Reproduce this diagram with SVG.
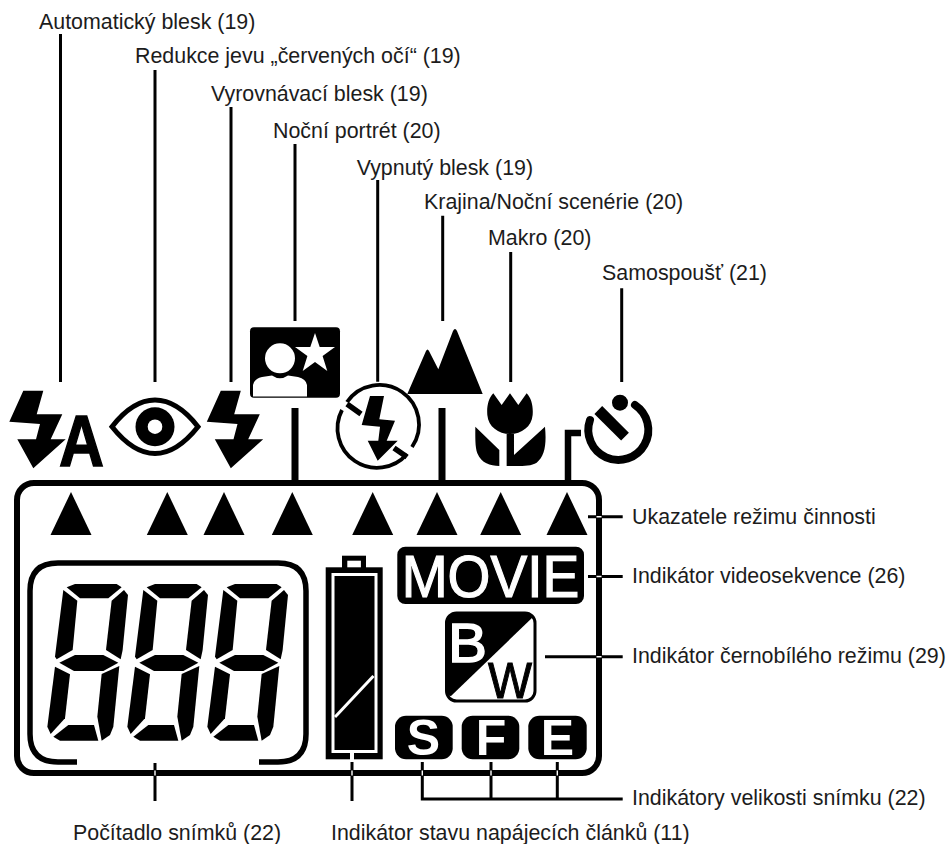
<svg xmlns="http://www.w3.org/2000/svg" width="947" height="844" viewBox="0 0 947 844">
<style>
text{font-family:"Liberation Sans",Arial,sans-serif}
.l{font-size:21.4px;fill:#1c1c1c}
.t{stroke:#000;stroke-width:3;fill:none}
.w{fill:#fff}
.f{stroke:#000;fill:none}
</style>
<defs>
<path id="flash" d="M23.3,390.7H43.3L36.7,414.3H62.3L50.7,439.3H65.7L33.3,468.3L17.3,439.3H36L40,424L9.3,421.7Z"/>
<polygon id="tri" points="0,0 20.5,43 -20.5,43"/>
<g id="digit" transform="translate(0,510) scale(.3333)">
<path d="M200,232L225,222H350L365,232L325,265H240Z"/>
<path d="M190,240L232,272L218,420L170,448L165,440Z"/>
<path d="M372,240L384,255L368,420L362,448L318,420L335,272Z"/>
<path d="M178,458L225,435H310L355,458L310,483H222Z"/>
<path d="M165,470L210,493L195,625L152,672L142,650Z"/>
<path d="M358,468L340,650L330,675L305,692L292,620L305,492Z"/>
<path d="M160,680L205,645H282L295,692H180Z"/>
</g>
</defs>
<rect width="947" height="844" fill="#fff"/>
<g id="connectors">
<path class="t" d="M60.5,34V382M155,70V382M231,107V382M295,144V321M377.7,180V381.7M442.7,215.7V321M510.7,252V382M621.7,288.3V382"/>
<path class="f" stroke-width="7" d="M295,408V483M442,408V483"/>
<path class="f" stroke-width="6.5" d="M568,483V433H581"/>
<path class="t" d="M588,516.7H622.7M588,576.5H622.7M545,656.7H622.7M155,763V801M352,762V801M422.3,762V799H622.7M491,762V799M557.3,762V799"/>
</g>
<g id="lcd-frame">
<rect class="f" stroke-width="6" x="17" y="483" width="582" height="290" rx="17"/>
<path stroke="#fff" stroke-width="1.4" d="M596.5,516.7H601.5M596.5,576.5H601.5M596.5,656.7H601.5M155,770.5V775.5M352,770.5V775.5M422.3,770.5V775.5M491,770.5V775.5M557.3,770.5V775.5" fill="none"/>
</g>
<g id="icon-auto-flash">
<use href="#flash"/>
<text x="81.5" y="466" font-size="72" font-weight="bold" text-anchor="middle" textLength="45" lengthAdjust="spacingAndGlyphs" stroke="#000" stroke-width="1.5">A</text>
</g>
<g id="icon-red-eye">
<path d="M112,426.7C125,410 140,400 155,400C170,400 185,410 198,426.7C185,443 170,453.5 155,453.5C140,453.5 125,443 112,426.7Z" fill="#fff" stroke="#000" stroke-width="5"/>
<circle cx="155" cy="426.7" r="19.5"/>
<circle class="w" cx="155" cy="426.7" r="7.3"/>
</g>
<g id="icon-fill-flash"><use href="#flash" x="197.5"/></g>
<g id="icon-night-portrait">
<rect x="250" y="327.3" width="90" height="70.4" rx="4"/>
<polygon class="w" points="315,333 319.7,347 335,347 322.6,356 327.3,371 315,362 302.7,371 307.4,356 295,347 310.3,347"/>
<circle class="w" cx="280" cy="358.3" r="15"/>
<path class="w" d="M253,396.5V385Q254,379 262,377L272,375.5Q280,381 288,375.5L298,377Q306,379 307,385V396.5Z"/>
</g>
<g id="icon-flash-off">
<path class="f" stroke-width="3.8" d="M347,402A39.5,39.5 0 0 1 412,447M407,454A39.5,39.5 0 0 1 342,410"/>
<path class="f" stroke-width="5.5" d="M347,404L361,414M394,448L407,457"/>
<path d="M370,396H384L379.3,419.3L395,420.7L386.7,440.7H397.7L377.7,460.7L367.7,440.7H378.3L380,426.7L361.7,425Z"/>
</g>
<g id="icon-landscape">
<path d="M407.3,394L426,351Q427.5,348 429,351L438.3,369.3L453,331Q455,327 457,331L482.7,394Z"/>
</g>
<g id="icon-macro" transform="translate(330,310) scale(.3333)">
<path d="M490,250L515,285L540,250L565,285L590,250C605,265 610,290 608,315C605,350 575,372 540,372C505,372 475,350 472,315C470,290 475,265 490,250Z"/>
<path d="M530,372H552V435L645,350C650,400 645,440 620,458C600,470 570,468 530,468Z"/>
<path d="M436,350L508,420V468C480,468 455,460 442,430C435,410 436,380 436,350Z"/>
</g>
<g id="icon-timer">
<path class="f" stroke-width="8" stroke-linecap="round" d="M590,420A30,30 0 1 0 635,405"/>
<circle cx="620" cy="402.7" r="8"/>
<path class="f" stroke-width="11" d="M598.3,410L625,436.7"/>
</g>
<g id="mode-pointers">
<use href="#tri" x="71" y="492"/>
<use href="#tri" x="167.3" y="492"/>
<use href="#tri" x="224" y="492"/>
<use href="#tri" x="292.3" y="492"/>
<use href="#tri" x="372.7" y="492"/>
<use href="#tri" x="437" y="492"/>
<use href="#tri" x="500.7" y="492"/>
<use href="#tri" x="567" y="492"/>
</g>
<g id="frame-counter">
<path class="f" stroke-width="5.5" d="M77,762H58Q30,762 30,734V591Q30,563 58,563H278Q306,563 306,591V734Q306,762 278,762H259"/>
<use href="#digit"/>
<use href="#digit" x="80"/>
<use href="#digit" x="160"/>
</g>
<g id="battery">
<rect x="342" y="555.7" width="24" height="14"/>
<rect class="w" x="347.3" y="560.7" width="13.6" height="8"/>
<rect x="325.7" y="567.3" width="57" height="192"/>
<rect x="333" y="574.5" width="43" height="177" fill="none" stroke="#fff" stroke-width="3"/>
<path stroke="#fff" stroke-width="3" fill="none" d="M335,717L373.5,676"/>
<rect class="w" x="350" y="752" width="4" height="8"/>
</g>
<g id="movie">
<rect x="397.3" y="546.7" width="186.7" height="57.3" rx="8"/>
<text class="w" x="401.7" y="597.3" font-size="60" textLength="177.6" lengthAdjust="spacingAndGlyphs" stroke="#fff" stroke-width="1.2">MOVIE</text>
</g>
<g id="bw">
<rect x="446.5" y="613" width="88.5" height="88" rx="10" fill="#fff" stroke="#000" stroke-width="3"/>
<path d="M456,613H526Q529,613 533,617L451,696Q447,696 447,690V623Q447,613 456,613Z"/>
<text class="w" x="448" y="661.5" font-size="56" textLength="39" lengthAdjust="spacingAndGlyphs" stroke="#fff" stroke-width="1.5">B</text>
<text x="488" y="698" font-size="50" textLength="44" lengthAdjust="spacingAndGlyphs" stroke="#000" stroke-width="1">W</text>
</g>
<g id="size-s"><rect x="395" y="715.7" width="57.7" height="43.6" rx="11"/><text class="w" x="423.5" y="754.5" font-size="50" font-weight="bold" text-anchor="middle">S</text></g>
<g id="size-f"><rect x="461.7" y="715.7" width="57.6" height="43.6" rx="11"/><text class="w" x="491" y="755" font-size="50" font-weight="bold" text-anchor="middle">F</text></g>
<g id="size-e"><rect x="528.3" y="715.7" width="58.4" height="43.6" rx="11"/><text class="w" x="557.5" y="755" font-size="50" font-weight="bold" text-anchor="middle">E</text></g>
<g id="labels">
<text class="l" x="39" y="29">Automatický blesk (19)</text>
<text class="l" x="135" y="62.7">Redukce jevu „červených očí“ (19)</text>
<text class="l" x="211" y="100.7">Vyrovnávací blesk (19)</text>
<text class="l" x="273" y="138">Noční portrét (20)</text>
<text class="l" x="356.7" y="175">Vypnutý blesk (19)</text>
<text class="l" x="424" y="209">Krajina/Noční scenérie (20)</text>
<text class="l" x="488" y="245">Makro (20)</text>
<text class="l" x="602" y="280">Samospoušť (21)</text>
<text class="l" x="632" y="524">Ukazatele režimu činnosti</text>
<text class="l" x="632" y="583">Indikátor videosekvence (26)</text>
<text class="l" x="632" y="663">Indikátor černobílého režimu (29)</text>
<text class="l" x="632" y="805">Indikátory velikosti snímku (22)</text>
<text class="l" x="73" y="840">Počítadlo snímků (22)</text>
<text class="l" x="331" y="840">Indikátor stavu napájecích článků (11)</text>
</g>
</svg>
